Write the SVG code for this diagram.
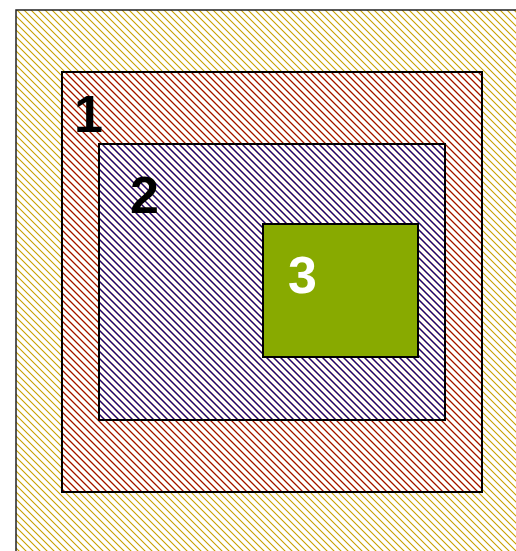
<svg xmlns="http://www.w3.org/2000/svg" width="516" height="551" viewBox="0 0 516 551">
<defs>
<pattern id="hy" patternUnits="userSpaceOnUse" width="7" height="7"><path d="M-1,-1 L8,8 M-1,6 L1,8 M6,-1 L8,1" stroke="#c8a000" stroke-width="1.1"/></pattern>
<pattern id="hr" patternUnits="userSpaceOnUse" width="7" height="7"><path d="M-1,-1 L8,8 M-1,6 L1,8 M6,-1 L8,1" stroke="#a00000" stroke-width="1.1"/></pattern>
<pattern id="hb" patternUnits="userSpaceOnUse" width="7" height="7"><path d="M-1,-1 L8,8 M-1,6 L1,8 M6,-1 L8,1" stroke="#000090" stroke-width="1.1"/></pattern>
</defs>
<style>
.lbl{font-family:"Liberation Sans",Arial,sans-serif;font-weight:bold;font-size:52px}
.box{stroke:#000;stroke-width:2}
</style>
<rect width="516" height="551" fill="#fff"/>
<g id="node0"><rect x="16" y="10" width="520" height="560" fill="url(#hy)" stroke="#222" stroke-width="1.5"/></g>
<g id="node1"><rect x="62" y="72" width="420" height="420" fill="url(#hr)" class="box"/><text x="74" y="132" class="lbl" fill="#000">1</text></g>
<g id="node2"><rect x="99" y="144" width="346" height="276" fill="url(#hb)" class="box"/><text x="130" y="213" class="lbl" fill="#000">2</text></g>
<g id="node3"><rect x="263" y="224" width="155" height="133" fill="#88aa00" class="box"/><text x="288" y="293" class="lbl" fill="#fff">3</text></g>
<g id="connectors"/>
</svg>
